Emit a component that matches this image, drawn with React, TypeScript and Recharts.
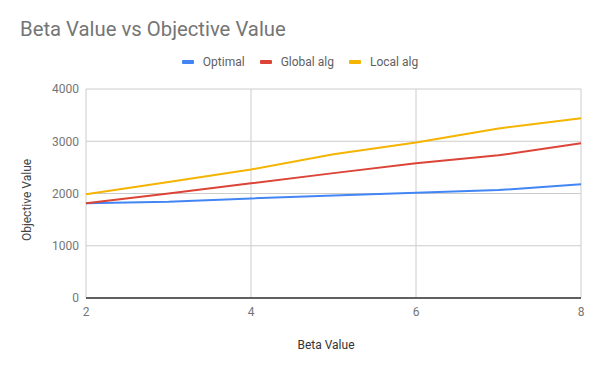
import { LineChart, Line, XAxis, YAxis, CartesianGrid, Label } from 'recharts'

const betas = [2, 3, 4, 5, 6, 7, 8]
const optimal = [1815, 1840, 1905, 1960, 2015, 2065, 2175]
const globalAlg = [1815, 2000, 2195, 2390, 2580, 2730, 2960]
const localAlg = [1985, 2220, 2460, 2750, 2975, 3245, 3440]
const xTicks = [2, 4, 6, 8]
const yTicks = [0, 1000, 2000, 3000, 4000]

const series = [
  { key: 'optimal', name: 'Optimal', color: '#4285f4' },
  { key: 'globalAlg', name: 'Global alg', color: '#db4437' },
  { key: 'localAlg', name: 'Local alg', color: '#f4b400' },
]

const data = betas.map((b, i) => ({ beta: b, optimal: optimal[i], globalAlg: globalAlg[i], localAlg: localAlg[i] }))

const font = 'Roboto, sans-serif'

function LegendRow() {
  return (
    <div style={{ position: 'absolute', top: 54, left: 0, width: 600, display: 'flex', justifyContent: 'center', gap: 15,
      fontFamily: font, fontSize: 12, color: '#616161', lineHeight: '16px' }}>
      {series.map(s => (
        <div key={s.key} style={{ display: 'flex', alignItems: 'center' }}>
          <span style={{ display: 'inline-block', width: 12, height: 4, borderRadius: 1, background: s.color, marginRight: 9 }} />
          {s.name}
        </div>
      ))}
    </div>
  )
}

export default function App() {
  return (
    <div style={{ position: 'absolute', left: 0, top: 0, width: 600, height: 371, background: '#fff' }}>
      <div style={{ position: 'absolute', left: 20, top: 17, fontFamily: font, fontSize: 20.3, color: '#757575' }}>
        Beta Value vs Objective Value
      </div>
      <LineChart width={600} height={371} data={data} margin={{ top: 89, right: 19, bottom: 0, left: 0 }}>
        <CartesianGrid stroke="#cccccc" horizontal vertical />
        <XAxis dataKey="beta" type="number" domain={[2, 8]} ticks={xTicks} height={73}
          tickSize={0} tickMargin={9} axisLine={{ stroke: '#333333', strokeWidth: 1.5 }}
          tick={{ fontFamily: font, fontSize: 12, fill: '#757575' }}>
          <Label content={() => (
            <text x={326} y={349} textAnchor="middle" fontFamily={font} fontSize={12} fill="#333333">Beta Value</text>
          )} />
        </XAxis>
        <YAxis domain={[0, 4000]} ticks={yTicks} width={86} tickSize={0} tickMargin={7} axisLine={false}
          tick={{ fontFamily: font, fontSize: 12, fill: '#757575' }}>
          <Label content={() => (
            <text x={31} y={200} transform="rotate(-90 31 200)" textAnchor="middle" fontFamily={font} fontSize={12} fill="#444444">Objective Value</text>
          )} />
        </YAxis>
        {series.map(s => (
          <Line key={s.key} dataKey={s.key} name={s.name} stroke={s.color} strokeWidth={2}
            dot={false} type="linear" isAnimationActive={false} />
        ))}
      </LineChart>
      <LegendRow />
    </div>
  )
}
